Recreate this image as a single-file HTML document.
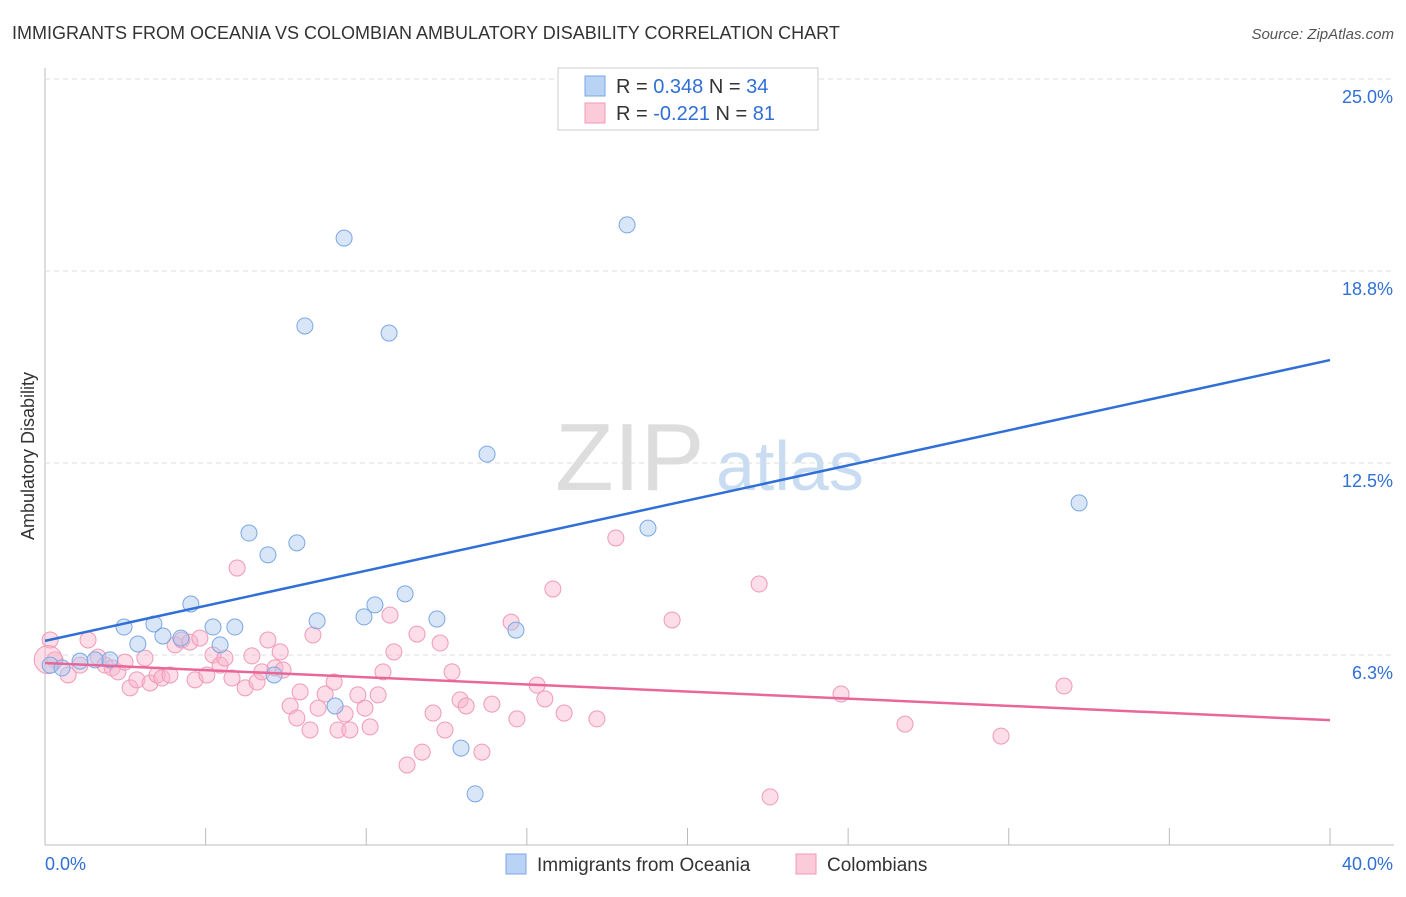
<!DOCTYPE html>
<html><head><meta charset="utf-8"><style>
body{margin:0;background:#fff;font-family:"Liberation Sans",sans-serif}
svg text{font-family:"Liberation Sans",sans-serif}
</style></head><body>
<svg id="c" width="1406" height="892">
<text x="12" y="39" font-size="18" fill="#333">IMMIGRANTS FROM OCEANIA VS COLOMBIAN AMBULATORY DISABILITY CORRELATION CHART</text>
<text x="1394" y="39" font-size="15" fill="#555" text-anchor="end" font-style="italic">Source: ZipAtlas.com</text>
<text x="555" y="490" font-size="96" fill="#ddd" font-family="Liberation Serif">ZIP</text>
<text x="716" y="490" font-size="70" fill="#c9dcf2">atlas</text>
<text transform="translate(34,456) rotate(-90)" font-size="18" fill="#333" text-anchor="middle">Ambulatory Disability</text>
<g id="grid"></g><g id="pts"></g><g id="lines"></g>
<g>
<rect x="558" y="68" width="260" height="62" fill="#fff" stroke="#ccc"/>
<rect x="585" y="76" width="20" height="20" fill="#b9d3f5" stroke="#7aa7e6"/>
<rect x="585" y="103" width="20" height="20" fill="#fbcbda" stroke="#f09ab6"/>
<text x="616" y="93" font-size="20" fill="#333">R = <tspan fill="#2f6fd6">0.348</tspan>   N = <tspan fill="#2f6fd6">34</tspan></text>
<text x="616" y="120" font-size="20" fill="#333">R = <tspan fill="#2f6fd6">-0.221</tspan>   N = <tspan fill="#2f6fd6"> 81</tspan></text>
</g>
<g>
<rect x="506" y="854" width="20" height="20" fill="#b9d3f5" stroke="#7aa7e6"/>
<text x="537" y="871" font-size="19" fill="#333">Immigrants from Oceania</text>
<rect x="796" y="854" width="20" height="20" fill="#fbcbda" stroke="#f09ab6"/>
<text x="827" y="871" font-size="19" fill="#333">Colombians</text>
</g>
</svg>
<script>
const yTicks=[6.25,12.5,18.75,25];
const yTickLabels=["6.3%","12.5%","18.8%","25.0%"];
const xTickLabels=["0.0%","40.0%"];
const blueX=[0.16,0.53,1.09,2.02,2.46,2.89,3.39,3.67,4.23,4.54,5.23,5.45,5.91,6.35,6.94,7.13,7.84,8.09,8.47,9.03,9.31,9.93,10.27,10.71,11.21,12.2,12.95,13.39,13.76,14.66,18.12,18.77,32.19,1.56];
const blueY=[5.92,5.83,6.05,6.09,7.16,6.61,7.26,6.87,6.8,7.91,7.16,6.58,7.16,10.22,9.51,5.6,9.9,16.96,7.36,4.59,19.82,7.49,7.88,16.73,8.24,7.42,3.22,1.73,12.79,7.06,20.25,10.38,11.2,6.09];
const pinkX=[0.16,0.31,0.72,1.09,1.34,1.65,1.87,2.09,2.27,2.49,2.65,2.86,3.11,3.27,3.49,3.64,3.89,4.05,4.26,4.51,4.67,4.82,5.04,5.23,5.45,5.6,5.82,5.98,6.23,6.44,6.6,6.75,6.94,7.16,7.32,7.41,7.63,7.84,7.94,8.25,8.34,8.5,8.72,9,9.12,9.34,9.49,9.74,9.96,10.12,10.37,10.52,10.74,10.86,11.27,11.58,11.74,12.08,12.3,12.45,12.67,12.92,13.11,13.6,13.91,14.51,14.69,15.32,15.56,15.81,16.16,17.18,17.77,19.52,22.23,22.57,24.78,26.77,29.76,31.72,0.1];
const pinkY=[6.74,6.09,5.6,5.92,6.74,6.18,5.92,5.83,5.7,6.02,5.18,5.44,6.15,5.34,5.6,5.5,5.6,6.58,6.74,6.67,5.44,6.8,5.6,6.25,5.92,6.15,5.5,9.08,5.18,6.22,5.37,5.7,6.74,5.83,6.35,5.76,4.59,4.2,5.05,3.81,6.9,4.52,4.98,5.37,3.81,4.33,3.81,4.95,4.52,3.91,4.95,5.7,7.55,6.35,2.67,6.93,3.09,4.36,6.64,3.81,5.7,4.79,4.59,3.09,4.65,7.32,4.17,5.27,4.82,8.4,4.36,4.17,10.06,7.39,8.56,1.63,4.98,4,3.61,5.24,6.1];
const blueFit=[6.71,15.85];
const pinkFit=[5.99,4.13];
const X=v=>45+v/40*1285, Y=v=>847-v/6.25*192;
const NS="http://www.w3.org/2000/svg";
function mk(t,a,p){const e=document.createElementNS(NS,t);for(const k in a)e.setAttribute(k,a[k]);p.appendChild(e);return e;}
const g=document.getElementById('grid');
let ax=mk('line',{x1:45,y1:68,x2:45,y2:845,stroke:'#bbb'},g);


let bx=mk('line',{x1:45,y1:845,x2:1394,y2:845,stroke:'#bbb'},g);


for(let i=0;i<=8;i++){const t=mk('line',{x1:X(i*5),y1:828,x2:X(i*5),y2:845,stroke:'#bbb'},g);

}
yTicks.forEach((v,i)=>{const l=mk('line',{x1:45,y1:Y(v),x2:1394,y2:Y(v),stroke:'#ddd','stroke-dasharray':'5,4'},g);


const t=mk('text',{x:1393,y:Y(v)+24,'font-size':18,fill:'#2f6fd6','text-anchor':'end'},g);t.textContent=yTickLabels[i];

});
xTickLabels.forEach((s,i)=>{const t=mk('text',{x:i?1393:45,y:870,'font-size':18,fill:'#2f6fd6','text-anchor':i?'end':'start'},g);t.textContent=s;

});
const p=document.getElementById('pts');
pinkX.forEach((x,i)=>{const c=mk('circle',{cx:X(x),cy:Y(pinkY[i]),r:i==pinkX.length-1?14:8,fill:'rgba(248,180,203,0.45)',stroke:'#f09ab6','stroke-width':1},p);

});
blueX.forEach((x,i)=>{const c=mk('circle',{cx:X(x),cy:Y(blueY[i]),r:8,fill:'rgba(170,200,240,0.45)',stroke:'#7aa7e6','stroke-width':1},p);

});
const L=document.getElementById('lines');
const b=mk('line',{x1:X(0),y1:Y(blueFit[0]),x2:X(40),y2:Y(blueFit[1]),stroke:'#2f6fd6','stroke-width':2.5},L);


const q=mk('line',{x1:X(0),y1:Y(pinkFit[0]),x2:X(40),y2:Y(pinkFit[1]),stroke:'#e8679a','stroke-width':2.5},L);


</script>
</body></html>
